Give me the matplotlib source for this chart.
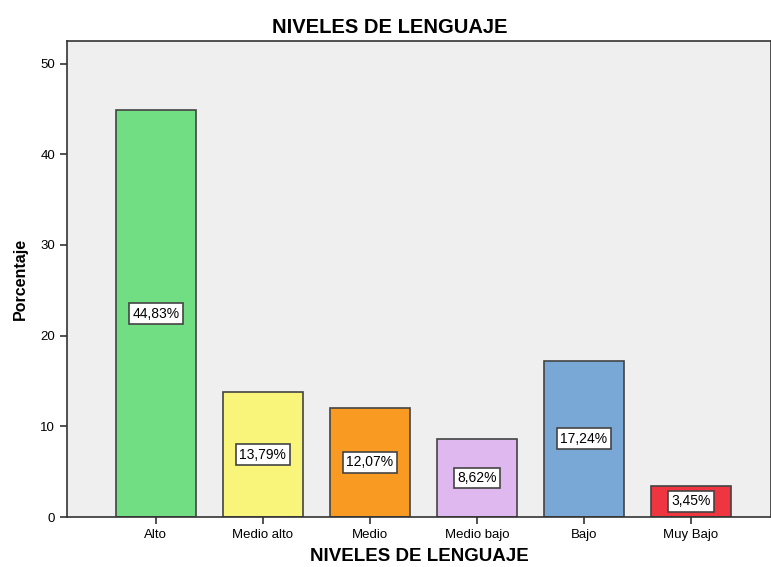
import matplotlib
matplotlib.use('Agg')
import matplotlib.pyplot as plt

categories = ['Alto', 'Medio alto', 'Medio', 'Medio bajo', 'Bajo', 'Muy Bajo']
values = [44.83, 13.79, 12.07, 8.62, 17.24, 3.45]
colors = ['#72DE83', '#F9F57A', '#F99A22', '#DFB8F0', '#79A8D6', '#EE3540']
yticks = [0, 10, 20, 30, 40, 50]

plt.rcParams['font.family'] = ['Liberation Sans', 'DejaVu Sans']

fig = plt.figure(figsize=(7.71, 5.67), dpi=100)
ax = fig.add_axes([0.087, 0.088, 0.913, 0.84])
ax.set_facecolor('#EFEFEF')

x = list(range(len(categories)))
ax.bar(x, values, width=0.75, color=colors, edgecolor='#444444', linewidth=1.2, zorder=2)

for xi, v in zip(x, values):
    label = ('%.2f' % v).replace('.', ',') + '%'
    ax.text(xi, v / 2, label, ha='center', va='center', fontsize=10, zorder=3,
            bbox=dict(boxstyle='square,pad=0.25', facecolor='white', edgecolor='#444444', linewidth=1.2))

ax.set_xlim(-0.83, 5.75)
ax.set_ylim(0, 52.5)
ax.set_yticks(yticks)
ax.set_xticks(x)
ax.set_xticklabels(categories, fontsize=9.5)
ax.tick_params(axis='y', labelsize=9.5, length=5, width=1.2, color='#333333')
ax.tick_params(axis='x', length=5, width=1.2, color='#333333')
for s in ax.spines.values():
    s.set_color('#333333')
    s.set_linewidth(1.2)

fig.text(0.506, 0.952, 'NIVELES DE LENGUAJE', fontsize=14.5, fontweight='bold', ha='center', va='center')
ax.set_xlabel('NIVELES DE LENGUAJE', fontsize=13.5, fontweight='bold', labelpad=5)
ax.set_ylabel('Porcentaje', fontsize=11.5, fontweight='bold', labelpad=9)

fig.savefig('out.png', dpi=100)
